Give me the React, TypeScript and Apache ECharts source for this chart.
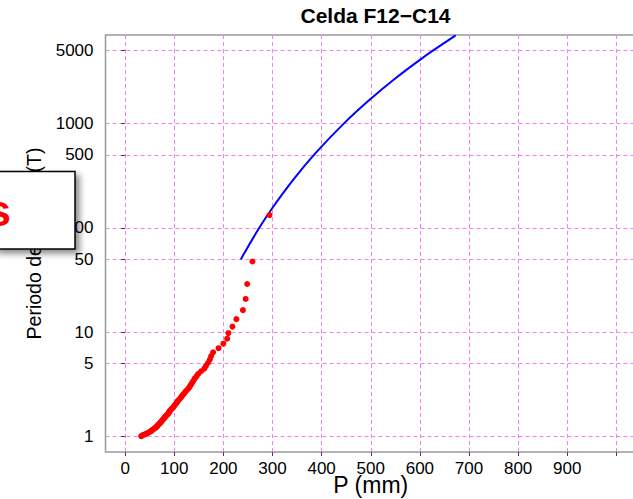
import React, { useEffect, useRef } from "react";
import * as echarts from "echarts";

const chartTitle = "Celda F12\u2212C14";
const xName = "P (mm)";
const yName = "Periodo de retorno (T)";
const legendFragment = "s";

const xTicks = [0, 100, 200, 300, 400, 500, 600, 700, 800, 900, 1000];
const xLabels = [0, 100, 200, 300, 400, 500, 600, 700, 800, 900];
const yTicks = [1, 5, 10, 50, 100, 500, 1000, 5000];

// observed points (rank 1 .. 74)
const observedP = [
  293.9, 259.2, 248.4, 245.3, 239.8, 226.5, 218.4, 210.2, 207.6, 200.0,
  190.2, 179.0, 175.0, 172.4, 168.8, 164.7, 161.2, 154.5, 149.0, 145.5,
  141.8, 139.2, 136.7, 134.1, 131.6, 129.2, 125.9, 122.7, 120.4, 117.3,
  114.9, 112.9, 110.4, 108.0, 105.9, 104.1, 102.0, 100.0, 98.4, 96.5,
  94.1, 92.0, 90.4, 89.2, 88.0, 86.3, 83.9, 82.0, 80.6, 79.0,
  77.6, 76.1, 74.5, 73.3, 71.6, 70.0, 68.4, 66.7, 65.5, 64.3,
  62.7, 60.6, 58.6, 56.5, 54.9, 52.9, 51.0, 48.4, 45.9, 43.3,
  40.2, 37.1, 34.7, 32.7,
];
const observedT = [
  132.4, 47.51, 28.95, 20.82, 16.25, 13.33, 11.30, 9.804, 8.659, 7.753,
  7.019, 6.412, 5.901, 5.466, 5.091, 4.763, 4.476, 4.221, 3.994, 3.789,
  3.605, 3.438, 3.285, 3.146, 3.018, 2.900, 2.791, 2.689, 2.595, 2.507,
  2.425, 2.349, 2.276, 2.209, 2.145, 2.084, 2.027, 1.973, 1.922, 1.874,
  1.827, 1.783, 1.742, 1.702, 1.663, 1.627, 1.592, 1.558, 1.526, 1.496,
  1.466, 1.438, 1.410, 1.384, 1.358, 1.334, 1.310, 1.288, 1.266, 1.244,
  1.224, 1.204, 1.185, 1.166, 1.148, 1.131, 1.114, 1.097, 1.081, 1.066,
  1.050, 1.036, 1.021, 1.008,
];

// fitted curve
const fittedP = [235.4, 271.5, 300.1, 343.6, 387.1, 445.0, 500.1, 550.4, 600.1, 628.6, 672.9];
const fittedT = [49.8, 97.2, 155.7, 294.1, 515.8, 995, 1721, 2706, 4066, 5058, 6978];

const FONT = "'Liberation Sans', Arial, Helvetica, sans-serif";

export default function App() {
  const ref = useRef<HTMLDivElement>(null);
  useEffect(() => {
    const chart = echarts.init(ref.current as HTMLDivElement, null, { renderer: "svg" });
    const gridColor = "#ee82ee";
    chart.setOption({
      animation: false,
      title: {
        text: chartTitle,
        left: 370.5,
        textAlign: "center",
        top: 0,
        textStyle: { fontFamily: FONT, fontSize: 21, fontWeight: "bold", color: "#000" },
      },
      grid: {
        left: 105.5,
        right: -3,
        top: 35,
        bottom: 47,
        show: true,
        borderColor: "#999",
        borderWidth: 1.5,
        containLabel: false,
        outerBoundsMode: "none",
      },
      xAxis: {
        type: "value",
        min: -40,
        max: 1040,
        name: xName,
        nameLocation: "middle",
        nameGap: 23,
        nameMoveOverlap: false,
        nameTextStyle: { fontFamily: FONT, fontSize: 23, lineHeight: 20, color: "#000" },
        axisLine: { show: false },
        axisTick: { show: true, length: 4, customValues: xTicks, lineStyle: { color: "#444" } },
        axisLabel: {
          customValues: xLabels,
          margin: 10.5,
          fontSize: 17,
          lineHeight: 12,
          fontFamily: FONT,
          color: "#000",
          formatter: (v: number) => String(Math.round(v)),
        },
        splitLine: { show: true, lineStyle: { color: gridColor, type: [4, 3], width: 1 } },
      },
      yAxis: {
        type: "log",
        logBase: 10,
        min: 0.711,
        max: 7031,
        name: yName,
        nameLocation: "middle",
        nameGap: 62,
        nameRotate: 90,
        nameMoveOverlap: false,
        nameTextStyle: { fontFamily: FONT, fontSize: 19.5, color: "#000" },
        axisLine: { show: false },
        axisTick: { show: true, length: 4, customValues: yTicks, lineStyle: { color: "#444" } },
        axisLabel: {
          customValues: yTicks,
          margin: 12,
          fontSize: 17,
          fontFamily: FONT,
          color: "#000",
          formatter: (v: number) => String(Math.round(v)),
        },
        splitLine: { show: true, lineStyle: { color: gridColor, type: [4, 3], width: 1 } },
      },
      series: [
        {
          type: "line",
          data: fittedP.map((p, i) => [p, fittedT[i]]),
          smooth: 0.4,
          symbol: "none",
          lineStyle: { color: "#0000ff", width: 2 },
          z: 2,
        },
        {
          type: "scatter",
          data: observedP.map((p, i) => [p, observedT[i]]),
          symbolSize: 6,
          itemStyle: { color: "#ff0000", opacity: 1 },
          z: 3,
        },
      ],
      graphic: [
        {
          type: "rect",
          z: 100,
          shape: { x: -6, y: 171.5, width: 81, height: 77.5 },
          style: {
            fill: "#fff",
            stroke: "#000",
            lineWidth: 1.5,
            shadowBlur: 6,
            shadowOffsetX: 4,
            shadowOffsetY: 4,
            shadowColor: "rgba(0,0,0,0.45)",
          },
        },
        {
          type: "text",
          z: 101,
          x: 11,
          y: 210,
          style: {
            text: legendFragment,
            fill: "#ff0000",
            fontSize: 44,
            fontWeight: "bold",
            fontFamily: FONT,
            align: "right",
            verticalAlign: "middle",
          },
        },
      ],
    });
    return () => chart.dispose();
  }, []);
  return (
    <div
      ref={ref}
      style={{ position: "fixed", left: 0, top: 0, width: 633, height: 499, background: "#fff" }}
    />
  );
}
